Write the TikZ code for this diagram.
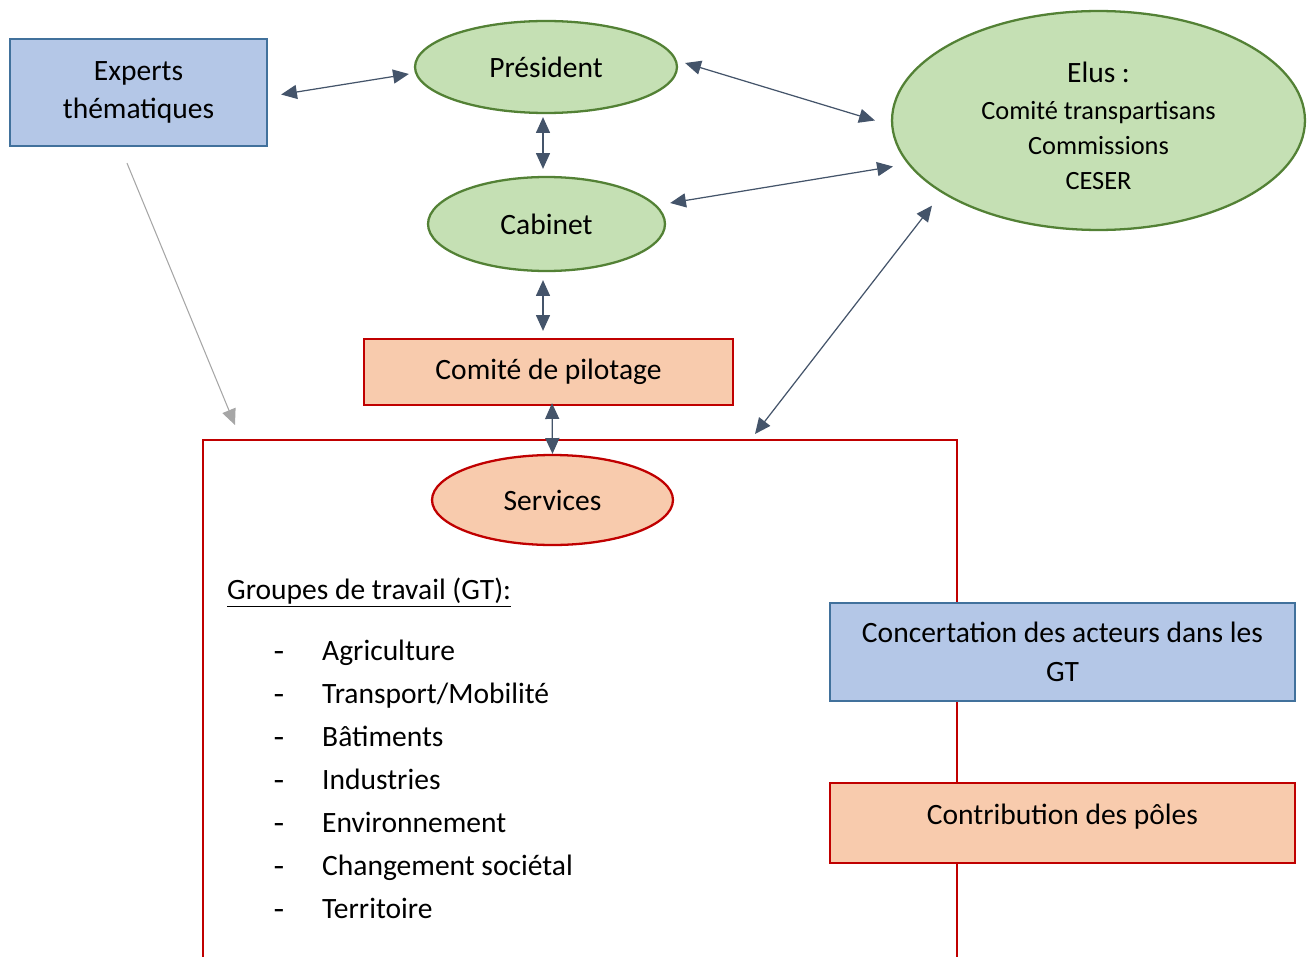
\documentclass[tikz,border=0pt]{standalone}
\usepackage{fontspec}
\setmainfont{Carlito}
\newfontfamily\dashfont{Liberation Mono}
\usetikzlibrary{shapes.geometric,arrows.meta}
\definecolor{greenfill}{HTML}{C5E0B4}
\definecolor{greenline}{HTML}{538135}
\definecolor{bluefill}{HTML}{B4C7E7}
\definecolor{blueline}{HTML}{41719C}
\definecolor{peachfill}{HTML}{F8CBAD}
\definecolor{redline}{HTML}{C00000}
\definecolor{arrowcol}{HTML}{44546A}
\definecolor{greycol}{HTML}{A6A6A6}
\newcommand{\smalltxt}{\fontsize{15}{20}\selectfont}
\tikzset{
  txt/.style={font=\fontsize{16.8}{22}\selectfont},
  bluebox/.style={rectangle,draw=blueline,fill=bluefill,line width=1.3pt,inner sep=0pt,align=center,txt},
  peachbox/.style={rectangle,draw=redline,fill=peachfill,line width=1.3pt,inner sep=0pt,align=center,txt},
  greenell/.style={ellipse,draw=greenline,fill=greenfill,line width=1.3pt,inner sep=0pt,align=center,txt},
  peachell/.style={ellipse,draw=redline,fill=peachfill,line width=1.3pt,inner sep=0pt,align=center,txt},
  dbl/.style={arrowcol,line width=0.7pt,{Triangle[length=9pt,width=8pt]}-{Triangle[length=9pt,width=8pt]}},
  greyarr/.style={greycol,line width=0.6pt,-{Triangle[length=9pt,width=8pt]}}
}
\begin{document}
\begin{tikzpicture}[x=0.02cm,y=-0.02cm]
    \useasboundingbox (0,0) rectangle (1314,956);
    % cadre des groupes de travail
    \draw[redline,line width=1.3pt] (203,960) -- (203,440) coordinate (gtnw) -- (957,440) coordinate (gtne) -- (957,960);
    \node[bluebox,minimum width=5.14cm,minimum height=2.14cm] (exp) at (138.5,92.5) {Experts\\th\'ematiques};
    \node[greenell,minimum width=5.24cm,minimum height=1.84cm] (pres) at (546,67) {Pr\'esident};
    \node[greenell,minimum width=4.74cm,minimum height=1.88cm] (cab) at (546.5,224) {Cabinet};
    \node[greenell,minimum width=8.26cm,minimum height=4.38cm,
        label={[txt,align=center,yshift=-0.11cm]center:Elus :\\[-1pt]{\smalltxt Comit\'e transpartisans}\\[-2pt]{\smalltxt Commissions}\\[-2pt]{\smalltxt CESER}}]
        (elus) at (1098.5,120.5) {};
    \node[peachbox,minimum width=7.38cm,minimum height=1.32cm] (pil) at (548.5,372) {Comit\'e de pilotage};
    \node[peachell,minimum width=4.82cm,minimum height=1.8cm] (serv) at (552.5,500) {Services};
    \node[bluebox,minimum width=9.3cm,minimum height=1.96cm] (conc) at (1062.5,652) {Concertation des acteurs dans les\\GT};
    \node[peachbox,minimum width=9.3cm,minimum height=1.6cm,text depth=10pt] (contr) at (1062.5,823) {Contribution des p\^oles};
    % liste des GT
    \node[txt,anchor=base west] (gt) at (221,599) {\underline{Groupes de travail (GT):}};
    \foreach \item [count=\i] in {Agriculture,Transport/Mobilit\'e,B\^atiments,Industries,Environnement,Changement soci\'etal,Territoire}
    {
        \node[txt,anchor=base] (dash\i) at (279,617+43*\i) {\dashfont -};
        \node[txt,anchor=base west] (gt\i) at (316,617+43*\i) {\item};
    }
    % fleches
    \draw[dbl] ([shift={(13,2)}]exp.east) -- ([shift={(-5,7)}]pres.west);
    \draw[dbl] ([shift={(7,-4)}]pres.east) -- ([shift={(-16,0)}]elus.west);
    \draw[dbl] ([shift={(4,-21)}]cab.east) -- ([shift={(2,46)}]elus.west);
    \draw[dbl] ([shift={(-3,3)}]pres.south) -- ([shift={(-3.5,-7)}]cab.north);
    \draw[dbl] ([shift={(-3.5,8)}]cab.south) -- ([shift={(-5.5,-7)}]pil.north);
    \draw[dbl] ([shift={(3.5,-3)}]pil.south) -- (serv.north);
    \draw[dbl] ([shift={(-166.5,-25.5)}]elus.south) -- ([shift={(-202,-6)}]gtne);
    \draw[greyarr] ([shift={(-11.5,16)}]exp.south) -- ([shift={(32,-15)}]gtnw);
\end{tikzpicture}
\end{document}
